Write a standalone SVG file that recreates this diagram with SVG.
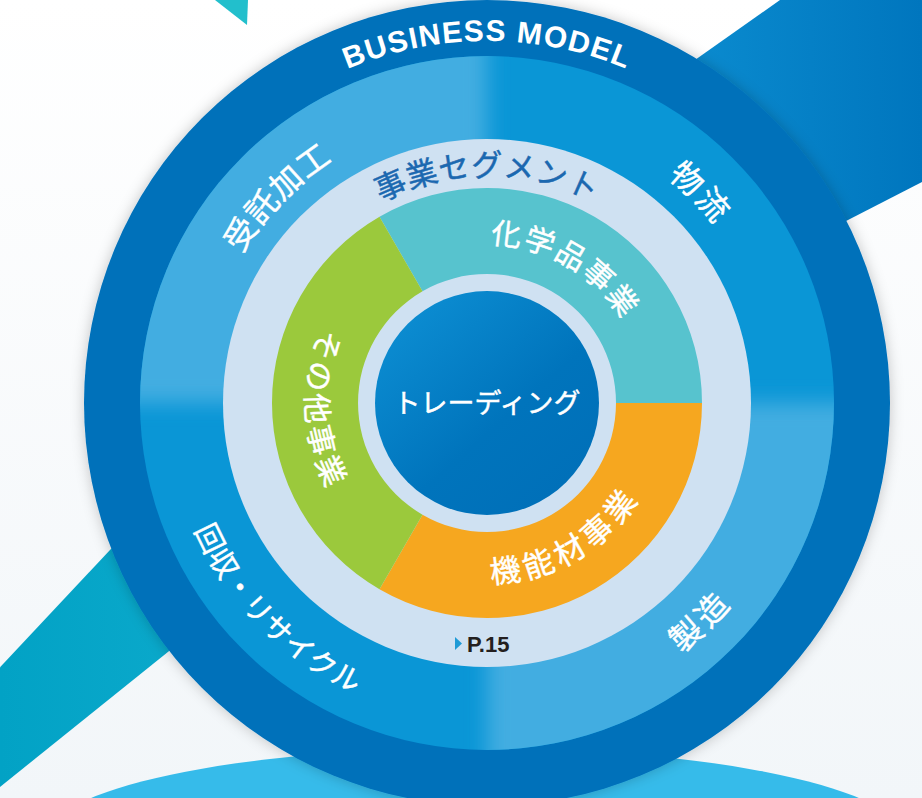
<svg xmlns="http://www.w3.org/2000/svg" width="922" height="798" viewBox="0 0 922 798">
  <defs>
    <linearGradient id="bgGrad" x1="0" y1="0" x2="0" y2="1">
      <stop offset="0" stop-color="#FFFFFF"/>
      <stop offset="1" stop-color="#F2F6F9"/>
    </linearGradient>
    <linearGradient id="blueBand" gradientUnits="userSpaceOnUse" x1="700" y1="0" x2="922" y2="0">
      <stop offset="0" stop-color="#0A8ACE"/>
      <stop offset="1" stop-color="#0076BE"/>
    </linearGradient>
    <linearGradient id="tealBand" gradientUnits="userSpaceOnUse" x1="0" y1="0" x2="220" y2="0">
      <stop offset="0" stop-color="#02A2C5"/>
      <stop offset="1" stop-color="#0CAACC"/>
    </linearGradient>
    <linearGradient id="coreGrad" gradientUnits="userSpaceOnUse" x1="410" y1="320" x2="560" y2="490">
      <stop offset="0" stop-color="#0B8BD0"/>
      <stop offset="0.6" stop-color="#0074BC"/>
      <stop offset="1" stop-color="#0070B9"/>
    </linearGradient>
    <filter id="shadow" x="-10%" y="-10%" width="120%" height="120%">
      <feDropShadow dx="0" dy="0" stdDeviation="7" flood-color="#000000" flood-opacity="0.22"/>
    </filter>
    <filter id="soft" x="-10%" y="-10%" width="120%" height="120%">
      <feGaussianBlur stdDeviation="10"/>
    </filter>
    <clipPath id="midClip">
      <circle cx="487" cy="403" r="347"/>
    </clipPath>
    <path id="arcBM" d="M173.5,222 A362,362 0 0 1 800.5,222"/>
    <path id="arcJutaku" d="M201.3,430.5 A287,287 0 0 1 509.5,116.9"/>
    <path id="arcButsuryu" d="M514.7,115.3 A289,289 0 0 1 775.1,380.3"/>
    <path id="arcKaishu" d="M179.6,317.8 A319,319 0 0 0 566.9,711.8"/>
    <path id="arcSeizo" d="M511.9,719 A317,317 0 0 0 802.5,433.4"/>
    <path id="arcSeg" d="M273.7,325.4 A227,227 0 0 1 700.3,325.4"/>
    <path id="arcChem" d="M407.5,265.3 A159,159 0 0 1 646,403"/>
    <path id="arcFunc" d="M397,558.9 A180,180 0 0 0 667,403"/>
    <path id="arcOther" d="M389.7,250.3 A181,181 0 0 0 403.4,563.5"/>
  </defs>
  <style>
    .jp { font-family: 'Noto Sans CJK JP', 'Noto Sans CJK SC', sans-serif; fill: #FFFFFF; stroke: #FFFFFF; stroke-width: 0.45px; }
    .seg { fill: #1B68B0; stroke: #1B68B0; }
    .lat { font-family: 'Liberation Sans', Arial, sans-serif; font-weight: bold; }
  </style>

  <g id="background">
    <rect x="0" y="0" width="922" height="798" fill="url(#bgGrad)"/>
    <polygon points="215,0 248,0 247,25" fill="#22BFCC"/>
    <polygon points="600,127 780,0 922,0 922,182 848,220 700,296" fill="url(#blueBand)"/>
    <polygon points="-10,678 200,454 250,586 -10,795" fill="url(#tealBand)"/>
    <ellipse cx="475" cy="839" rx="430" ry="91" fill="#36BBEA"/>
  </g>

  <g id="business-model-ring">
    <circle cx="487" cy="403" r="403" fill="#0071BA" filter="url(#shadow)"/>
  </g>

  <g id="value-chain-ring" clip-path="url(#midClip)">
    <rect x="0" y="0" width="922" height="798" fill="#0A96D6"/>
    <g filter="url(#soft)">
      <rect x="40" y="0" width="447" height="403" fill="#43ADE1"/>
      <rect x="487" y="403" width="435" height="395" fill="#43ADE1"/>
    </g>
  </g>

  <g id="segment-ring">
    <circle cx="487" cy="403" r="264" fill="#CFE1F2"/>
  </g>

  <g id="chemicals">
    <path d="M379.5,216.8 A215,215 0 0 1 702,403 L616,403 A129,129 0 0 0 422.5,291.3 Z" fill="#57C3CE"/>
  </g>
  <g id="functional-materials">
    <path d="M702,403 A215,215 0 0 1 379.5,589.2 L422.5,514.7 A129,129 0 0 0 616,403 Z" fill="#F6A71F"/>
  </g>
  <g id="other-business">
    <path d="M379.5,589.2 A215,215 0 0 1 379.5,216.8 L422.5,291.3 A129,129 0 0 0 422.5,514.7 Z" fill="#9BC93C"/>
  </g>

  <g id="trading">
    <circle cx="487" cy="403" r="112" fill="url(#coreGrad)"/>
    <text class="jp" x="487" y="413" font-size="27" text-anchor="middle">トレーディング</text>
  </g>

  <g id="labels">
    <text class="lat" font-size="30" fill="#FFFFFF" letter-spacing="1.2"><textPath href="#arcBM" startOffset="50%" text-anchor="middle">BUSINESS MODEL</textPath></text>
    <text class="jp" font-size="32" letter-spacing="1"><textPath href="#arcJutaku" startOffset="50%" text-anchor="middle">受託加工</textPath></text>
    <text class="jp" font-size="32" letter-spacing="3"><textPath href="#arcButsuryu" startOffset="50%" text-anchor="middle">物流</textPath></text>
    <text class="jp" font-size="29" letter-spacing="0.5"><textPath href="#arcKaishu" startOffset="50%" text-anchor="middle">回収・リサイクル</textPath></text>
    <text class="jp" font-size="32" letter-spacing="5"><textPath href="#arcSeizo" startOffset="50%" text-anchor="middle">製造</textPath></text>
    <text class="jp seg" font-size="31" letter-spacing="0.5"><textPath href="#arcSeg" startOffset="50%" text-anchor="middle">事業セグメント</textPath></text>
    <text class="jp" font-size="30" letter-spacing="2"><textPath href="#arcChem" startOffset="50%" text-anchor="middle">化学品事業</textPath></text>
    <text class="jp" font-size="31" letter-spacing="5"><textPath href="#arcFunc" startOffset="50%" text-anchor="middle">機能材事業</textPath></text>
    <text class="jp" font-size="30" letter-spacing="4"><textPath href="#arcOther" startOffset="50%" text-anchor="middle">その他事業</textPath></text>
  </g>

  <g id="page-ref">
    <polygon points="455,637 462,643.5 455,650" fill="#1E9AD6"/>
    <text class="lat" x="467" y="652" font-size="22" fill="#231F20">P.15</text>
  </g>
</svg>
